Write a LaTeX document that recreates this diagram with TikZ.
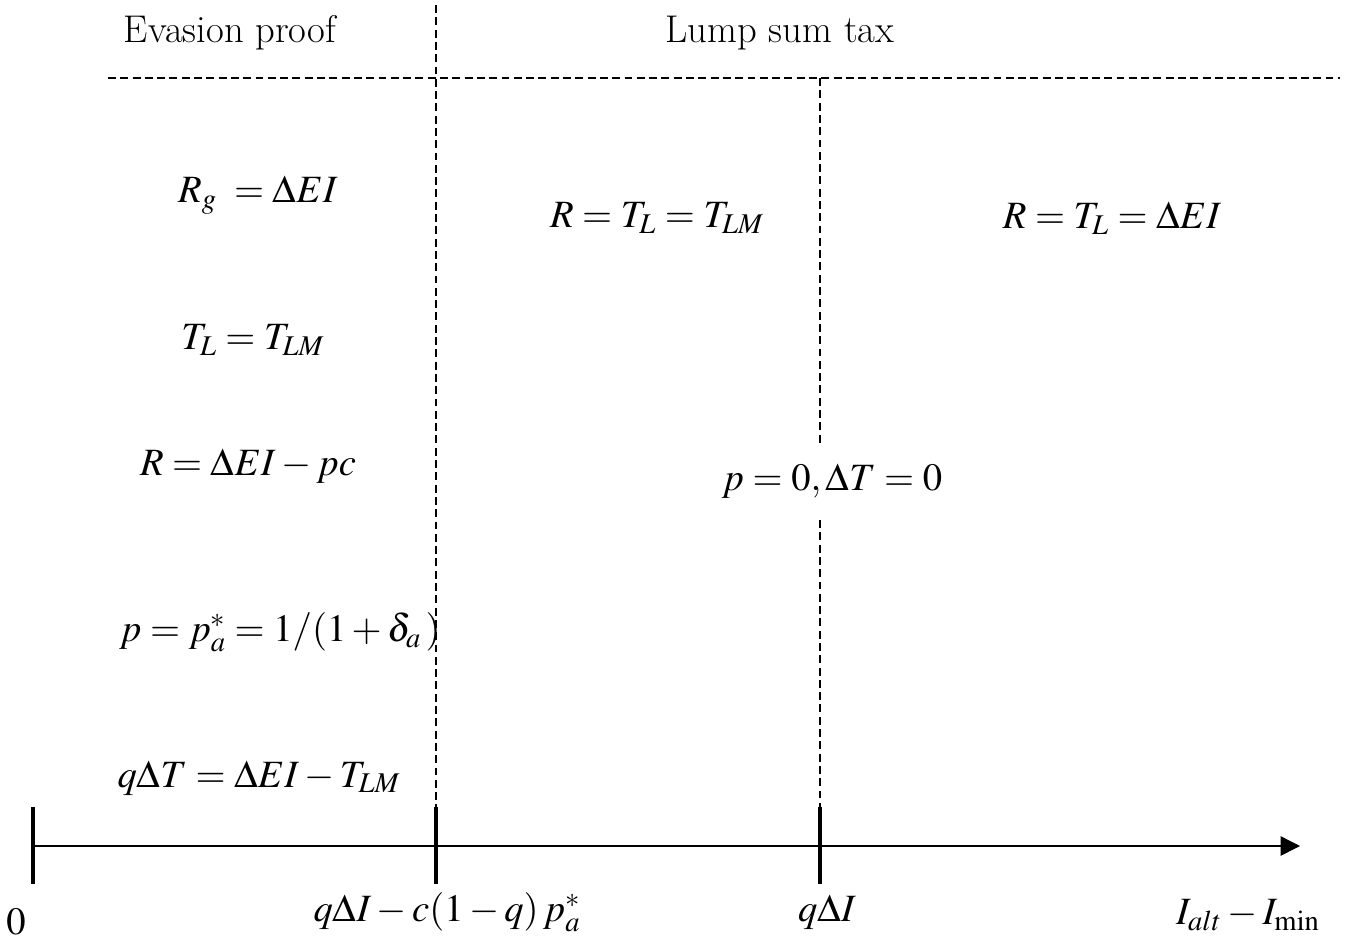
\documentclass[tikz,border=0pt]{standalone}
\usepackage{mathptmx}
\usetikzlibrary{arrows.meta}
\begin{document}
\begin{tikzpicture}[x=0.02cm,y=-0.02cm,
  lbl/.style={font=\fontsize{22}{26}\selectfont, inner sep=0pt},
  dsh/.style={line width=0.8pt, dash pattern=on 4.5pt off 2.5pt},
  tickmark/.style={line width=2.8pt},
  axisline/.style={line width=0.8pt, -{Triangle[length=11pt,width=11pt]}}]
\useasboundingbox (0,0) rectangle (1349,941);
% axis
\coordinate (ax0) at (33,846);
\coordinate (ax1) at (1300,846);
\draw[axisline] (ax0) -- (ax1);
% ticks
\coordinate (t0a) at (33,807);  \coordinate (t0b) at (33,884);
\coordinate (t1a) at (436,807); \coordinate (t1b) at (436,884);
\coordinate (t2a) at (820,807); \coordinate (t2b) at (820,884);
\draw[tickmark] (t0a) -- (t0b);
\draw[tickmark] (t1a) -- (t1b);
\draw[tickmark] (t2a) -- (t2b);
% dashed lines
\coordinate (v1top) at (436,5);
\coordinate (v2top) at (820,78);
\coordinate (v2gapa) at (820,443);
\coordinate (v2gapb) at (820,520);
\coordinate (hl) at (108,78);
\coordinate (hr) at (1340,78);
\draw[dsh] (v1top) -- (t1a);
\draw[dsh] (v2top) -- (v2gapa);
\draw[dsh] (v2gapb) -- (t2a);
\draw[dsh] (hl) -- (hr);
% headers
\node[lbl] (evp) at (230,33) {Evasion proof};
\node[lbl] (lst) at (780,33) {Lump sum tax};
% equations
\node[lbl] (e1) at (258,195) {$R_g \;=\Delta EI$};
\node[lbl] (e2) at (657,218) {$R = T_L = T_{LM}$};
\node[lbl] (e3) at (1112,218) {$R = T_L = \Delta EI$};
\node[lbl] (e4) at (253,340) {$T_L = T_{LM}$};
\node[lbl] (e5) at (248,466) {$R = \Delta EI - pc$};
\node[lbl] (e6) at (832,481) {$p = 0, \Delta T = 0$};
\node[lbl] (e7) at (280,632) {$p = p_a^{*} = 1/(1+\delta_a\,)$};
\node[lbl] (e8) at (259,778) {$q\Delta T = \Delta EI - T_{LM}$};
% axis labels
\node[lbl] (l0) at (16,922) {$0$};
\node[lbl] (l1) at (447,912) {$q\Delta I - c(1-q)\,p_a^{*}$};
\node[lbl] (l2) at (827,912) {$q\Delta I$};
\node[lbl] (l3) at (1248,915) {$I_{alt} - I_{\min}$};
\end{tikzpicture}
\end{document}
